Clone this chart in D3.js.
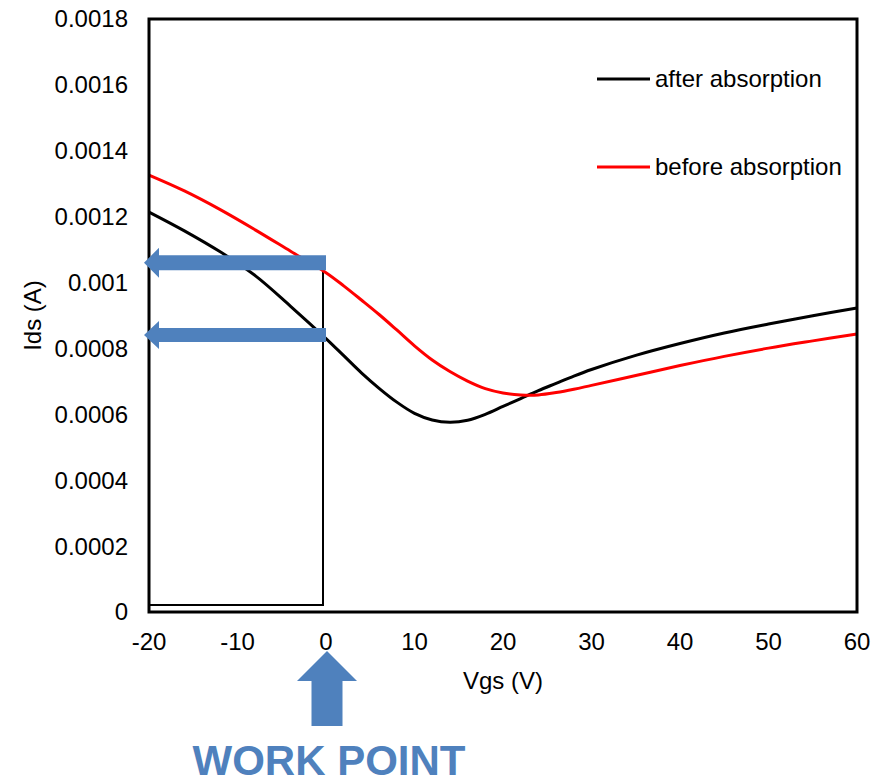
<!DOCTYPE html>
<html>
<head>
<meta charset="utf-8">
<script src="https://cdn.jsdelivr.net/npm/d3@7"></script>
<style>
  html, body { margin: 0; padding: 0; background: #fff; }
  svg { display: block; font-family: "Liberation Sans", Arial, sans-serif; }
</style>
</head>
<body>
<svg id="chart" width="883" height="778"></svg>
<script>
// Gate voltage samples (V)
const vgs = [-20, -16, -12, -8, -4, 0, 2, 4, 6, 8, 10, 12, 14, 16, 18, 20, 22, 24, 26, 28, 30, 35, 40, 45, 50, 55, 60];
// Drain current after absorption (A)
const idsAfter = [0.001214, 0.001157, 0.001094, 0.001021, 0.000928, 0.000830, 0.000778, 0.000726, 0.000679, 0.000637,
                  0.000603, 0.000583, 0.000576, 0.000582, 0.000600, 0.000624, 0.000648, 0.000672, 0.000694, 0.000716,
                  0.000736, 0.000779, 0.000815, 0.000847, 0.000874, 0.000899, 0.000923];
// Drain current before absorption (A)
const idsBefore = [0.001326, 0.001278, 0.001222, 0.001160, 0.001095, 0.001030, 0.000990, 0.000947, 0.000903, 0.000856,
                   0.000808, 0.000765, 0.000730, 0.000701, 0.000678, 0.000665, 0.000659, 0.000659, 0.000666, 0.000676,
                   0.000688, 0.000718, 0.000748, 0.000776, 0.000801, 0.000823, 0.000844];

const xTicks = [-20, -10, 0, 10, 20, 30, 40, 50, 60];
const yTicks = [0, 0.0002, 0.0004, 0.0006, 0.0008, 0.001, 0.0012, 0.0014, 0.0016, 0.0018];
const yTickLabels = ["0", "0.0002", "0.0004", "0.0006", "0.0008", "0.001", "0.0012", "0.0014", "0.0016", "0.0018"];

const seriesNames = ["after absorption", "before absorption"];
const seriesColors = ["#000000", "#ff0000"];

// Work point annotation: gate bias and the two read-out currents
const workPointVgs = 0;
const readoutLevels = [0.00106, 0.000841];

const svg = d3.select("#chart");
const plotL = 149, plotR = 857, plotT = 19, plotB = 612;
const accent = "#4f81bd";
const fs = 24;

const x = d3.scaleLinear().domain([-20, 60]).range([plotL, plotR]);
const y = d3.scaleLinear().domain([0, 0.0018]).range([plotB, plotT]);

svg.append("rect").attr("width", 883).attr("height", 778).attr("fill", "#fff");

// Work-point box from -20 V to the bias point
svg.append("rect")
  .attr("x", x(-20))
  .attr("y", y(readoutLevels[0]))
  .attr("width", x(workPointVgs) - 3 - x(-20))
  .attr("height", (y(0) - 7) - y(readoutLevels[0]))
  .attr("fill", "none")
  .attr("stroke", "#000")
  .attr("stroke-width", 2);

// Curves
const line = d3.line()
  .x(d => x(d[0]))
  .y(d => y(d[1]))
  .curve(d3.curveCatmullRom.alpha(0.5));

[idsAfter, idsBefore].forEach((vals, i) => {
  svg.append("path")
    .datum(vgs.map((v, j) => [v, vals[j]]))
    .attr("d", line)
    .attr("fill", "none")
    .attr("stroke", seriesColors[i])
    .attr("stroke-width", 3)
    .attr("stroke-linejoin", "round");
});

// Plot frame
svg.append("rect")
  .attr("x", plotL).attr("y", plotT)
  .attr("width", plotR - plotL).attr("height", plotB - plotT)
  .attr("fill", "none").attr("stroke", "#000").attr("stroke-width", 3);

// Y tick labels
svg.append("g").selectAll("text")
  .data(yTicks)
  .join("text")
  .attr("x", 128)
  .attr("y", d => y(d))
  .attr("dy", "0.35em")
  .attr("text-anchor", "end")
  .attr("font-size", fs)
  .text((d, i) => yTickLabels[i]);

// X tick labels
svg.append("g").selectAll("text")
  .data(xTicks)
  .join("text")
  .attr("x", d => x(d))
  .attr("y", 650)
  .attr("text-anchor", "middle")
  .attr("font-size", fs)
  .text(d => d);

// Axis titles
svg.append("text")
  .attr("x", (plotL + plotR) / 2)
  .attr("y", 689)
  .attr("text-anchor", "middle")
  .attr("font-size", fs)
  .text("Vgs (V)");

svg.append("text")
  .attr("transform", `translate(41, ${(plotT + plotB) / 2}) rotate(-90)`)
  .attr("text-anchor", "middle")
  .attr("font-size", fs)
  .text("Ids (A)");

// Legend
const legendY = [79, 167];
seriesNames.forEach((name, i) => {
  svg.append("line")
    .attr("x1", 597).attr("x2", 650)
    .attr("y1", legendY[i]).attr("y2", legendY[i])
    .attr("stroke", seriesColors[i]).attr("stroke-width", 3);
  svg.append("text")
    .attr("x", 655).attr("y", legendY[i])
    .attr("dy", "0.35em")
    .attr("font-size", fs)
    .text(name);
});

// Left-pointing read-out arrows
function leftArrow(level, bodyH, headH, headL) {
  const yc = y(level);
  const tip = x(-20) - 5;
  const end = x(workPointVgs);
  const pts = [
    [tip, yc],
    [tip + headL, yc - headH / 2],
    [tip + headL, yc - bodyH / 2],
    [end, yc - bodyH / 2],
    [end, yc + bodyH / 2],
    [tip + headL, yc + bodyH / 2],
    [tip + headL, yc + headH / 2]
  ];
  svg.append("path")
    .attr("d", "M" + pts.map(p => p.join(",")).join("L") + "Z")
    .attr("fill", accent);
}
leftArrow(readoutLevels[0], 15, 30, 15);
leftArrow(readoutLevels[1], 14, 28, 15);

// Upward arrow marking the work point
{
  const cx = x(workPointVgs) + 1;
  const tipY = 651, baseY = 681, endY = 726;
  const pts = [
    [cx, tipY],
    [cx + 30, baseY],
    [cx + 15.5, baseY],
    [cx + 15.5, endY],
    [cx - 15.5, endY],
    [cx - 15.5, baseY],
    [cx - 30, baseY]
  ];
  svg.append("path")
    .attr("d", "M" + pts.map(p => p.join(",")).join("L") + "Z")
    .attr("fill", accent);
  svg.append("text")
    .attr("x", cx + 2)
    .attr("y", 775)
    .attr("text-anchor", "middle")
    .attr("font-size", 42)
    .attr("font-weight", "bold")
    .attr("fill", accent)
    .text("WORK POINT");
}
</script>
</body>
</html>
